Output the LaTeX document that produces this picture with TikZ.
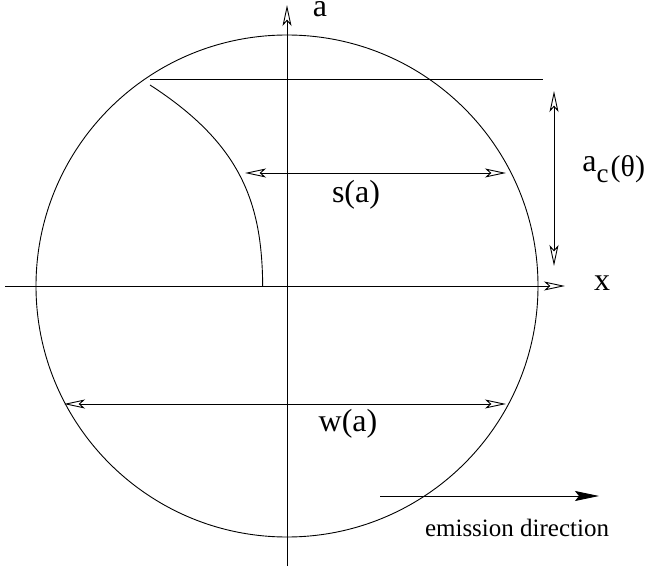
\documentclass[tikz,border=0pt]{standalone}
\usepackage{fontspec}
\setmainfont{Liberation Serif}
\usetikzlibrary{arrows.meta}
\tikzset{
  lab/.style={font=\fontsize{32}{36}\selectfont, inner sep=0pt},
  hollow/.style={>={Stealth[open,length=21pt,width=9pt,inset=5pt]}},
}
\begin{document}
\begin{tikzpicture}[x=1pt,y=-1pt,line width=0.9pt]
\useasboundingbox (0,0) rectangle (654,572);
\coordinate (o) at (287,286);
\coordinate (xl) at (5,286);
\coordinate (xr) at (565,286);
\coordinate (ab) at (287,566);
\coordinate (at) at (287,5);
\coordinate (t1) at (150,79);
\coordinate (t2) at (543,79);
\coordinate (c1) at (262.7,286);
\coordinate (c2) at (150,85);
\coordinate (s1) at (245,173);
\coordinate (s2) at (506,173);
\coordinate (w1) at (64,404);
\coordinate (w2) at (506,404);
\coordinate (h1) at (554,91);
\coordinate (h2) at (554,266);
\coordinate (e1) at (380,496);
\coordinate (e2) at (599,496);

\node[lab, anchor=base] (alab) at (320,17) {a};
\node[lab, anchor=base] (xlab) at (602,291) {x};
\node[lab] (slab) at (356,195) {s(a)};
\node[lab] (wlab) at (348,424) {w(a)};
\node[lab, anchor=base west] (aclab) at (582,172)
  {a\raisebox{-11pt}{\fontsize{27}{30}\selectfont c}\kern2pt\raisebox{-5pt}{\fontsize{30}{32}\selectfont(θ)}};
\node[font=\fontsize{25}{30}\selectfont, inner sep=0pt] (elab) at (517,528) {emission direction};

\draw (o) circle [radius=251pt];
\draw[hollow,->] (xl) -- (xr);
\draw[hollow,->] (ab) -- (at);
\draw (t1) -- (t2);
\draw (c1) .. controls (262,205) and (243,145) .. (c2);
\draw[hollow,<->] (s1) -- (s2);
\draw[hollow,<->] (w1) -- (w2);
\draw[hollow,<->] (h1) -- (h2);
\draw[-{Stealth[length=24pt,width=10pt,inset=4pt]}] (e1) -- (e2);
\end{tikzpicture}
\end{document}
